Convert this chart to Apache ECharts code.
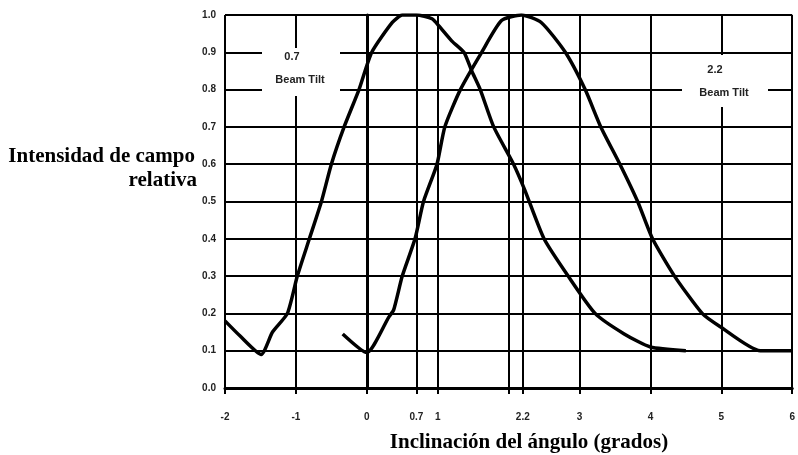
<!DOCTYPE html>
<html>
<head>
<meta charset="utf-8">
<script src="https://cdn.jsdelivr.net/npm/echarts@6/dist/echarts.min.js"></script>
<style>
  html, body { margin: 0; padding: 0; background: #fff; }
  #chart { width: 798px; height: 455px; }
</style>
</head>
<body>
<div id="chart"></div>
<script>
// curva con inclinación de haz 0.7
var tilt07X = [-2, -1.79, -1.49, -1.33, -1.12, -0.98, -0.81, -0.64, -0.5, -0.32, -0.11, 0.07, 0.36, 0.5, 0.7, 0.92, 1.02, 1.2, 1.37, 1.48, 1.6, 1.79, 2.07, 2.23, 2.5, 2.84, 3.22, 3.63, 4.0, 4.5]
var tilt07Y = [0.18, 0.14, 0.09, 0.15, 0.2, 0.3, 0.4, 0.5, 0.6, 0.7, 0.8, 0.9, 0.98, 1.0, 1.0, 0.99, 0.97, 0.93, 0.9, 0.85, 0.8, 0.7, 0.6, 0.53, 0.4, 0.3, 0.2, 0.145, 0.11, 0.1]
// curva con inclinación de haz 2.2
var tilt22X = [-0.34, 0.0, 0.31, 0.38, 0.5, 0.68, 0.8, 0.99, 1.1, 1.32, 1.62, 1.9, 2.18, 2.46, 2.8, 3.08, 3.3, 3.57, 3.82, 4.03, 4.34, 4.73, 4.98, 5.55, 6.0]
var tilt22Y = [0.145, 0.095, 0.19, 0.21, 0.3, 0.4, 0.5, 0.6, 0.7, 0.8, 0.9, 0.985, 1.0, 0.98, 0.9, 0.8, 0.7, 0.6, 0.5, 0.4, 0.3, 0.2, 0.165, 0.1, 0.1]
// marcas del eje x (enteros + inclinaciones)
var xTicks = [-2, -1, 0, 0.7, 1, 2, 2.2, 3, 4, 5, 6]
var xLabels = [-2, -1, 0, 0.7, 1, 2.2, 3, 4, 5, 6]
var tiltLines = [0.7, 2.2]

function pairs(xs, ys) {
  var out = []
  for (var i = 0; i < xs.length; i++) out.push([xs[i], ys[i]])
  return out
}

var chart = echarts.init(document.getElementById('chart'))

var tickFont = { fontFamily: 'Liberation Sans, Arial, sans-serif', fontSize: 10, fontWeight: 'bold', color: '#222' }
var titleFont = 'bold 21px "Liberation Serif", "Times New Roman", serif'
var noteFont = 'bold 11px "Liberation Sans", Arial, sans-serif'

var option = {
  backgroundColor: '#fff',
  animation: false,
  grid: { left: 225, right: 3, top: 15, bottom: 67 },
  xAxis: {
    type: 'value',
    min: -2,
    max: 6,
    interval: 1,
    axisLine: { lineStyle: { color: '#000', width: 3 } },
    axisTick: { length: 6, lineStyle: { color: '#000', width: 2 }, customValues: xTicks },
    axisLabel: Object.assign({
      margin: 24,
      customValues: xLabels,
      formatter: function (v) { return String(v) }
    }, tickFont),
    splitLine: { show: true, lineStyle: { color: '#000', width: 2 } }
  },
  yAxis: {
    type: 'value',
    min: 0,
    max: 1,
    interval: 0.1,
    axisLine: { show: true, lineStyle: { color: '#000', width: 3 } },
    axisTick: { show: true, length: 6, lineStyle: { color: '#000', width: 2 } },
    axisLabel: Object.assign({
      margin: 9,
      formatter: function (v) { return v.toFixed(1) }
    }, tickFont),
    splitLine: { show: true, lineStyle: { color: '#000', width: 2 } }
  },
  series: [
    {
      type: 'line',
      data: pairs(tilt07X, tilt07Y),
      showSymbol: false,
      symbol: 'none',
      smooth: 0.2,
      lineStyle: { color: '#000', width: 3.5 },
      z: 5,
      markLine: {
        silent: true,
        symbol: 'none',
        label: { show: false },
        lineStyle: { color: '#000', width: 2, type: 'solid' },
        data: tiltLines.map(function (v) { return { xAxis: v } })
      }
    },
    {
      type: 'line',
      data: pairs(tilt22X, tilt22Y),
      showSymbol: false,
      symbol: 'none',
      smooth: 0.2,
      lineStyle: { color: '#000', width: 3.5 },
      z: 5
    }
  ],
  graphic: [
    // recuadros blancos detras de las notas
    { type: 'rect', z: 10, shape: { x: 262, y: 48, width: 78, height: 48 }, style: { fill: '#fff' } },
    { type: 'text', z: 11, style: { x: 292, y: 57, text: '0.7', align: 'center', verticalAlign: 'middle', font: noteFont, fill: '#222' } },
    { type: 'text', z: 11, style: { x: 300, y: 80, text: 'Beam Tilt', align: 'center', verticalAlign: 'middle', font: noteFont, fill: '#222' } },
    { type: 'rect', z: 10, shape: { x: 682, y: 55, width: 86, height: 52 }, style: { fill: '#fff' } },
    { type: 'text', z: 11, style: { x: 715, y: 70, text: '2.2', align: 'center', verticalAlign: 'middle', font: noteFont, fill: '#222' } },
    { type: 'text', z: 11, style: { x: 724, y: 93, text: 'Beam Tilt', align: 'center', verticalAlign: 'middle', font: noteFont, fill: '#222' } },
    // titulos de ejes
    { type: 'text', z: 11, style: { x: 195, y: 157, text: 'Intensidad de campo', align: 'right', verticalAlign: 'middle', font: titleFont, fill: '#000' } },
    { type: 'text', z: 11, style: { x: 197, y: 181, text: 'relativa', align: 'right', verticalAlign: 'middle', font: titleFont, fill: '#000' } },
    { type: 'text', z: 11, style: { x: 529, y: 443, text: 'Inclinación del ángulo (grados)', align: 'center', verticalAlign: 'middle', font: titleFont, fill: '#000' } }
  ]
}

chart.setOption(option)
</script>
</body>
</html>
